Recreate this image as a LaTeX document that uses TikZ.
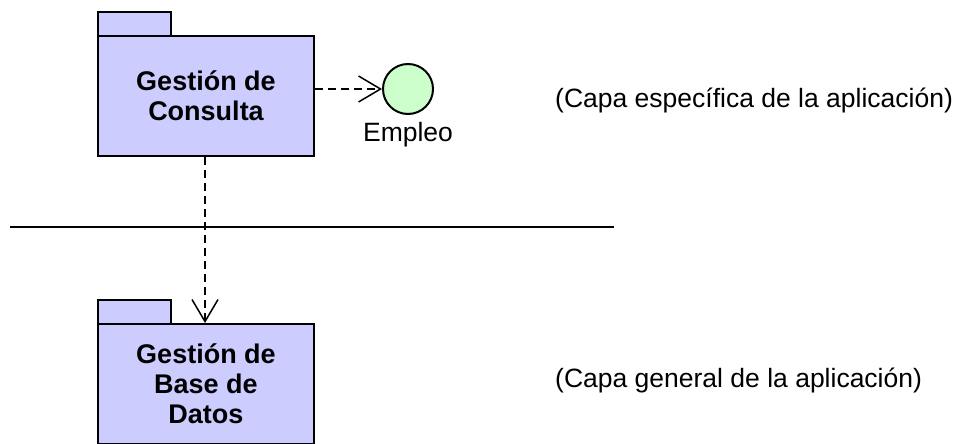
\documentclass[tikz,border=0pt]{standalone}
\usepackage{fontspec}
\setmainfont{Liberation Sans}
\usetikzlibrary{arrows.meta}
\definecolor{pkgfill}{RGB}{204,204,255}
\definecolor{ifill}{RGB}{204,255,204}
\begin{document}
\begin{tikzpicture}[x=1pt,y=-1pt,
  pkgbody/.style={draw=black,line width=2pt,fill=pkgfill,minimum width=216pt,minimum height=120pt,inner sep=0pt,align=center,font=\fontsize{27}{30}\selectfont\bfseries},
  pkgtab/.style={draw=black,line width=2pt,fill=pkgfill,minimum width=73pt,minimum height=25pt,inner sep=0pt},
  iface/.style={circle,draw=black,line width=2pt,fill=ifill,minimum size=50pt,inner sep=0pt},
  lbl/.style={font=\fontsize{26.5}{30}\selectfont,inner sep=0pt},
  dep/.style={dashed,dash pattern=on 8pt off 5pt,line width=1.5pt,-{Straight Barb[length=22pt,width=26pt,line width=1.5pt]}}
]
\useasboundingbox (0,0) rectangle (962,444);
% top package
\node[pkgtab,anchor=north west] (t1) at (97,11) {};
\node[pkgbody,anchor=north west] (p1) at (97,35) {Gestión de\\Consulta};
% interface
\node[iface] (e) at (408,89) {};
\node[lbl,anchor=base] (el) at (408,142) {Empleo};
% bottom package
\node[pkgtab,anchor=north west] (t2) at (97,299) {};
\node[pkgbody,anchor=north west] (p2) at (97,323) {Gestión de\\Base de\\Datos};
% separator
\coordinate (l1) at (10,227);
\coordinate (l2) at (614,227);
\draw[line width=1.5pt] (l1) -- (l2);
% dependencies
\draw[dep] (p1.east |- e) -- (e.west);
\draw[dep] (p1.south -| 205,0) -- (p2.north -| 205,0);
% layer labels
\node[lbl,anchor=west] (c1) at (555,100) {(Capa específica de la aplicación)};
\node[lbl,anchor=west] (c2) at (555,380) {(Capa general de la aplicación)};
\end{tikzpicture}
\end{document}
